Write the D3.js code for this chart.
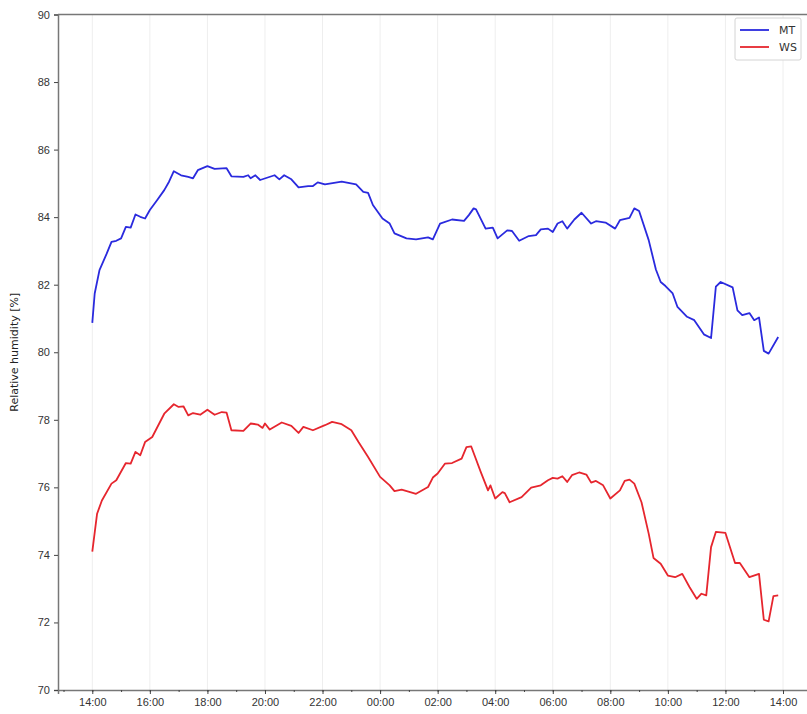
<!DOCTYPE html>
<html>
<head>
<meta charset="utf-8">
<script src="https://cdn.jsdelivr.net/npm/d3@7"></script>
<style>
  body { margin: 0; background: #fff; }
  svg { display: block; font-family: "DejaVu Sans", sans-serif; }
</style>
</head>
<body>
<svg id="chart" width="807" height="714"></svg>
<script>
// readings, times are HH:MM starting 14:00 and rolling past midnight
const mtTimes = ["14:00","14:05","14:15","14:30","14:40","14:50","15:00","15:10","15:20","15:30","15:40","15:50","16:00","16:15","16:30","16:40","16:50","17:05","17:20","17:30","17:40","18:00","18:15","18:40","18:50","19:15","19:25","19:30","19:40","19:50","20:20","20:30","20:40","20:55","21:10","21:30","21:40","21:50","22:05","22:40","23:10","23:25","23:35","23:45","00:05","00:20","00:30","00:55","01:15","01:40","01:50","02:05","02:30","02:55","03:05","03:15","03:20","03:40","03:55","04:05","04:25","04:35","04:50","05:10","05:25","05:35","05:50","06:00","06:10","06:20","06:30","06:45","07:00","07:20","07:30","07:50","08:10","08:20","08:40","08:50","09:00","09:20","09:35","09:45","09:55","10:10","10:20","10:40","10:55","11:15","11:30","11:40","11:50","12:15","12:25","12:35","12:50","13:00","13:10","13:20","13:30","13:50"];
const mtValues = [80.87,81.74,82.43,82.92,83.27,83.30,83.37,83.71,83.69,84.08,84.01,83.96,84.21,84.50,84.80,85.05,85.36,85.24,85.19,85.15,85.39,85.51,85.43,85.45,85.21,85.19,85.24,85.15,85.24,85.10,85.24,85.12,85.24,85.12,84.88,84.92,84.92,85.03,84.97,85.05,84.97,84.75,84.72,84.36,83.96,83.81,83.52,83.37,83.34,83.40,83.34,83.81,83.93,83.89,84.06,84.26,84.23,83.66,83.69,83.37,83.61,83.59,83.30,83.44,83.47,83.64,83.66,83.56,83.81,83.88,83.66,83.93,84.13,83.81,83.88,83.84,83.66,83.91,83.98,84.26,84.18,83.32,82.45,82.08,81.96,81.74,81.34,81.05,80.95,80.53,80.42,81.94,82.08,81.92,81.24,81.10,81.16,80.95,81.03,80.04,79.96,80.45];

const wsTimes = ["14:00","14:10","14:20","14:40","14:50","15:10","15:20","15:30","15:40","15:50","16:05","16:30","16:50","17:00","17:10","17:20","17:30","17:45","18:00","18:15","18:30","18:40","18:50","19:15","19:30","19:45","19:55","20:00","20:10","20:35","20:55","21:10","21:20","21:40","22:05","22:20","22:40","23:00","23:15","23:35","00:00","00:20","00:30","00:45","01:15","01:40","01:50","02:00","02:15","02:30","02:50","03:00","03:10","03:30","03:45","03:50","04:00","04:15","04:20","04:30","04:55","05:15","05:35","05:50","06:00","06:10","06:20","06:30","06:40","06:55","07:10","07:20","07:30","07:45","08:00","08:20","08:30","08:40","08:50","09:05","09:20","09:30","09:45","10:00","10:15","10:30","10:45","11:00","11:10","11:20","11:30","11:40","12:00","12:20","12:30","12:50","13:10","13:20","13:30","13:40","13:50"];
const wsValues = [74.10,75.22,75.61,76.11,76.21,76.72,76.70,77.05,76.95,77.34,77.49,78.18,78.46,78.38,78.40,78.13,78.20,78.15,78.30,78.15,78.23,78.21,77.69,77.67,77.89,77.86,77.76,77.89,77.71,77.92,77.82,77.61,77.79,77.69,77.84,77.94,77.87,77.69,77.34,76.90,76.31,76.06,75.89,75.93,75.81,76.01,76.29,76.41,76.70,76.72,76.85,77.19,77.21,76.45,75.91,76.06,75.67,75.86,75.83,75.56,75.71,75.99,76.06,76.21,76.28,76.26,76.33,76.16,76.36,76.44,76.38,76.14,76.19,76.06,75.67,75.91,76.19,76.23,76.11,75.56,74.63,73.91,73.74,73.39,73.34,73.44,73.05,72.70,72.85,72.80,74.23,74.68,74.65,73.76,73.76,73.34,73.44,72.08,72.03,72.78,72.80];

const yTicks = [70,72,74,76,78,80,82,84,86,88,90];
const seriesNames = ["MT", "WS"];
const seriesColors = ["#2a2ade", "#e6262e"];

function toDates(times) {
  let dayOffset = 0, prev = -1;
  return times.map(t => {
    const [h, m] = t.split(":").map(Number);
    const mins = h * 60 + m;
    if (mins < prev) dayOffset += 1;
    prev = mins;
    return new Date(2020, 0, 1 + dayOffset, h, m);
  });
}

const mt = toDates(mtTimes).map((d, i) => ({ t: d, v: mtValues[i] }));
const ws = toDates(wsTimes).map((d, i) => ({ t: d, v: wsValues[i] }));

const svg = d3.select("#chart");
const plotL = 58, plotR = 812.5, plotT = 14.5, plotB = 690;

// matplotlib-like 5% margin on the time range
const tMin = d3.min(mt.concat(ws), d => d.t), tMax = d3.max(mt.concat(ws), d => d.t);
const pad = (tMax - tMin) * 0.05;
const x = d3.scaleTime()
  .domain([new Date(+tMin - pad), new Date(+tMax + pad)])
  .range([plotL, plotR]);
const y = d3.scaleLinear().domain([70, 90]).range([plotB, plotT]);

const majorTicks = d3.timeHour.every(2).range(x.domain()[0], x.domain()[1]);
const minorTicks = d3.timeHour.every(1).range(x.domain()[0], x.domain()[1]);

// vertical grid
svg.append("g")
  .selectAll("line")
  .data(majorTicks)
  .enter().append("line")
  .attr("x1", d => x(d)).attr("x2", d => x(d))
  .attr("y1", plotT).attr("y2", plotB)
  .attr("stroke", "#eeeeee")
  .attr("stroke-width", 1);

const line = d3.line().x(d => x(d.t)).y(d => y(d.v));

[mt, ws].forEach((s, i) => {
  svg.append("path")
    .datum(s)
    .attr("fill", "none")
    .attr("stroke", seriesColors[i])
    .attr("stroke-width", 1.8)
    .attr("stroke-linejoin", "round")
    .attr("d", line);
});

// x axis
svg.append("g")
  .attr("transform", `translate(0,${plotB})`)
  .call(d3.axisBottom(x).tickValues(majorTicks).tickFormat(d3.timeFormat("%H:%M")).tickSize(4).tickPadding(4));
svg.append("g")
  .attr("transform", `translate(0,${plotB})`)
  .call(d3.axisBottom(x).tickValues(minorTicks).tickFormat("").tickSize(2))
  .call(g => g.select(".domain").remove());

// y axis
svg.append("g")
  .attr("transform", `translate(${plotL},0)`)
  .call(d3.axisLeft(y).tickValues(yTicks).tickSize(4).tickPadding(4));

svg.selectAll(".tick text")
  .attr("fill", "#333")
  .style("font-size", "11px");
svg.selectAll(".tick line").attr("stroke", "#444");
svg.selectAll(".domain").attr("stroke", "#777").attr("stroke-width", 1.5);

// top spine
svg.append("line")
  .attr("x1", plotL).attr("x2", plotR)
  .attr("y1", plotT).attr("y2", plotT)
  .attr("stroke", "#777").attr("stroke-width", 1.5);

svg.append("text")
  .attr("transform", `translate(18,${(plotT + plotB) / 2}) rotate(-90)`)
  .attr("text-anchor", "middle")
  .attr("fill", "#222")
  .style("font-size", "11px")
  .text("Relative humidity [%]");

// legend
const legend = svg.append("g").attr("transform", "translate(735,18)");
legend.append("rect")
  .attr("width", 66).attr("height", 42).attr("rx", 2)
  .attr("fill", "#fff").attr("stroke", "#d4d4d4");
seriesNames.forEach((name, i) => {
  legend.append("line")
    .attr("x1", 5).attr("x2", 34)
    .attr("y1", 12 + i * 17).attr("y2", 12 + i * 17)
    .attr("stroke", seriesColors[i]).attr("stroke-width", 1.8);
  legend.append("text")
    .attr("x", 44).attr("y", 16 + i * 17)
    .attr("fill", "#333")
    .style("font-size", "11px")
    .text(name);
});
</script>
</body>
</html>
